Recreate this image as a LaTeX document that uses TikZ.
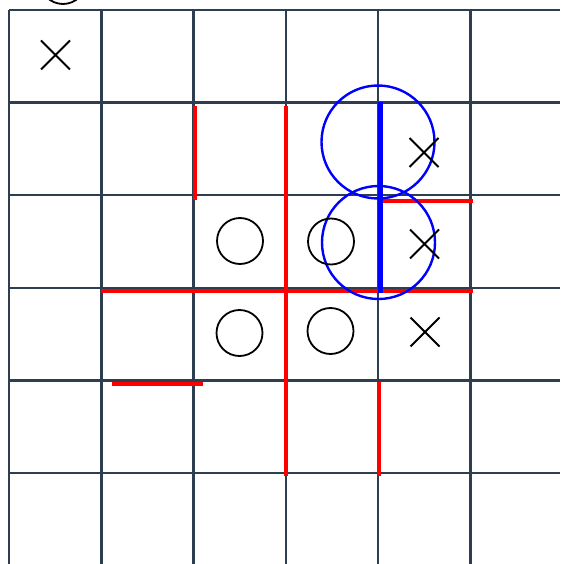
\documentclass[tikz,border=0pt]{standalone}
\usetikzlibrary{shapes.misc}
\definecolor{gridslate}{HTML}{2C3E50}

\begin{document}
\begin{tikzpicture}[
  x=1pt, y=-1pt,
  gridline/.style={draw=gridslate, line width=2.4pt},
  wall/.style={draw=red, line width=4pt},
  bluewall/.style={draw=blue, line width=5pt},
  ring/.style={draw=blue, line width=2.4pt},
  nought/.style={circle, draw=black, line width=1.8pt, minimum size=46pt, inner sep=0pt},
  cross/.style={cross out, draw=black, line width=2pt, minimum size=27pt, inner sep=0pt}
]
\useasboundingbox (0,0) rectangle (560,564);
\clip (0,0) rectangle (560,564);

% board
\foreach \i in {0,...,5} {
  \draw[gridline] ({9+92.3*\i}, 10) -- ({9+92.3*\i}, 564);
  \draw[gridline] (9, {10+92.6*\i}) -- (560, {10+92.6*\i});
}

% walls
\draw[wall] (195,106) -- (195,200);
\draw[wall] (286,106) -- (286,476);
\draw[wall] (379,382) -- (379,476);
\draw[wall] (101,291) -- (473,291);
\draw[wall] (382,200.5) -- (473,200.5);
\draw[wall] (112,384) -- (203,384);

% highlighted edge and rings
\draw[bluewall] (380,102) -- (380,293);
\draw[ring] (378,142) circle (56.5);
\draw[ring] (378.5,242.5) circle (56.5);

% pieces
\node[nought] (o0) at (63,-19) {};
\node[nought] (o1) at (240,241) {};
\node[nought] (o2) at (331,241.5) {};
\node[nought] (o3) at (239.5,333) {};
\node[nought] (o4) at (330.5,331) {};
\node[cross] (x0) at (55.5,55) {};
\node[cross] (x1) at (424,152.5) {};
\node[cross] (x2) at (424.5,244) {};
\node[cross] (x3) at (425,332) {};
\end{tikzpicture}
\end{document}
